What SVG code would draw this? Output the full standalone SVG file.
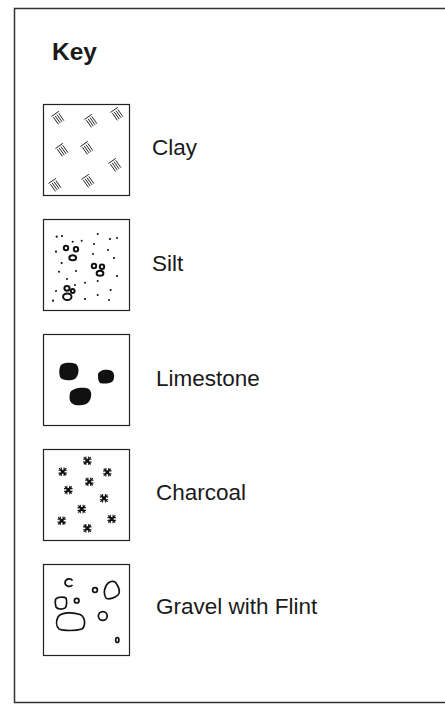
<svg xmlns="http://www.w3.org/2000/svg" width="445" height="708" viewBox="0 0 445 708">
<style>
.frame{fill:none;stroke:#333;stroke-width:1.5}
.box{fill:#fff;stroke:#222;stroke-width:1.2}
.lbl{font-family:"Liberation Sans",Arial,sans-serif;font-size:22.5px;fill:#1a1a1a}
.key{font-family:"Liberation Sans",Arial,sans-serif;font-size:24.5px;font-weight:bold;fill:#1a1a1a}
.ln{stroke:#222;stroke-width:0.9;fill:none}
.ring{fill:none;stroke:#111;stroke-width:2}
.dot{fill:#111}
.peb{fill:none;stroke:#111;stroke-width:1.7}
</style>
<defs>
<g id="clayg" class="ln">
<path d="M-4.5,-5 L4.5,-5 M-3.3,-3.3 L-3.3,5.5 M-1.1,-3.3 L-1.1,5.5 M1.1,-3.3 L1.1,5.5 M3.3,-3.3 L3.3,5.5"/>
</g>
<g id="charg" stroke="#111" stroke-width="1.1" fill="none">
<path d="M-4.2,-1.4 L4.2,-1.4 M-4.2,1.4 L4.2,1.4 M-1.4,-4.2 L-1.4,4.2 M1.4,-4.2 L1.4,4.2 M-3.6,-3.6 L3.6,3.6 M3.6,-3.6 L-3.6,3.6"/>
</g>
</defs>
<rect class="frame" x="14.5" y="8.5" width="434" height="694"/>
<text class="key" x="52" y="60">Key</text>

<g id="clay">
<rect class="box" x="43.5" y="104.5" width="86" height="91"/>
<use href="#clayg" transform="translate(58,118) rotate(-35)"/>
<use href="#clayg" transform="translate(91,121) rotate(-35)"/>
<use href="#clayg" transform="translate(117,114) rotate(-35)"/>
<use href="#clayg" transform="translate(62,150) rotate(-35)"/>
<use href="#clayg" transform="translate(87,148) rotate(-35)"/>
<use href="#clayg" transform="translate(115,165) rotate(-35)"/>
<use href="#clayg" transform="translate(55,185) rotate(-35)"/>
<use href="#clayg" transform="translate(88,181) rotate(-35)"/>
<text class="lbl" x="152" y="155">Clay</text>
</g>

<g id="silt">
<rect class="box" x="43.5" y="219.5" width="86" height="91"/>
<g class="dot">
<circle cx="56.7" cy="236.7" r="1.1"/><circle cx="62" cy="236" r="1.1"/><circle cx="97.7" cy="234" r="1"/>
<circle cx="110" cy="239" r="1.1"/><circle cx="117" cy="238" r="1"/><circle cx="72.7" cy="241.7" r="1"/>
<circle cx="81.7" cy="240.7" r="1"/><circle cx="94" cy="244" r="1"/><circle cx="56" cy="251.7" r="1.1"/>
<circle cx="108" cy="250" r="1"/><circle cx="93" cy="254" r="1"/><circle cx="61.7" cy="263" r="1.1"/>
<circle cx="114" cy="258" r="1.1"/><circle cx="76" cy="271" r="1"/><circle cx="59" cy="271.7" r="1"/>
<circle cx="117" cy="276" r="1.1"/><circle cx="67" cy="279" r="1"/><circle cx="97.7" cy="281" r="1"/>
<circle cx="85" cy="282.7" r="1"/><circle cx="75" cy="285" r="1"/><circle cx="110.7" cy="290" r="1.1"/>
<circle cx="56" cy="291" r="1"/><circle cx="85" cy="299" r="1.1"/><circle cx="97.7" cy="295" r="1"/>
<circle cx="109" cy="300" r="1"/><circle cx="53" cy="300.7" r="1.1"/>
</g>
<circle cx="66" cy="248" r="2.2" class="ring"/>
<circle cx="76" cy="249.3" r="2.2" class="ring"/>
<ellipse cx="72.7" cy="257.7" rx="3.4" ry="2.5" class="ring"/>
<circle cx="94" cy="266" r="2.2" class="ring"/>
<circle cx="102" cy="266.7" r="2.2" class="ring"/>
<ellipse cx="100" cy="273.3" rx="3.4" ry="2.5" class="ring"/>
<ellipse cx="67" cy="288.3" rx="2.6" ry="2.4" class="ring"/>
<circle cx="72.7" cy="291" r="1.9" class="ring"/>
<ellipse cx="67.3" cy="296.7" rx="4.2" ry="3.3" class="ring"/>
<text class="lbl" x="152" y="271">Silt</text>
</g>

<g id="limestone">
<rect class="box" x="43.5" y="334.5" width="86" height="91"/>
<g fill="#111">
<path d="M60,367 C61,362 71,362 76,364 C80,367 79,376 75,379 C71,381 62,381 60,377 C59,373 59,370 60,367Z"/>
<path d="M98,375 C98,371 104,369 109,370 C115,371 115,377 113,381 C110,384 103,384 100,383 C98,381 98,378 98,375Z"/>
<path d="M70,393 C71,389 79,387 86,388 C92,389 92,395 90,400 C88,405 80,406 75,405 C69,403 69,398 70,393Z"/>
</g>
<text class="lbl" x="156" y="386">Limestone</text>
</g>

<g id="charcoal">
<rect class="box" x="43.5" y="449.5" width="86" height="91"/>
<use href="#charg" x="87.3" y="460.7"/>
<use href="#charg" x="62.7" y="471.7"/>
<use href="#charg" x="107.3" y="472.3"/>
<use href="#charg" x="89.3" y="481.7"/>
<use href="#charg" x="68.3" y="490"/>
<use href="#charg" x="104" y="498.3"/>
<use href="#charg" x="81.7" y="509"/>
<use href="#charg" x="61.7" y="520.7"/>
<use href="#charg" x="111.7" y="519"/>
<use href="#charg" x="87.3" y="528.3"/>
<text class="lbl" x="156" y="500">Charcoal</text>
</g>

<g id="gravel">
<rect class="box" x="43.5" y="564.5" width="86" height="91"/>
<g class="peb">
<path d="M72.5,580.5 C71,578 65.5,578 65,582.5 C65,586.5 70,587.5 72.5,585"/>
<circle cx="95" cy="590" r="2.4"/>
<path d="M106,586 C108,581 114,580 116,583 C118,586 121,592 118,595 C115,598 108,600 106,598 C104,595 104,590 106,586Z"/>
<path d="M55.5,599.5 C56.5,597 63.5,596.5 66,598 C67,601 67,606 65,608 C62,609.5 57.5,609.5 56,607 C55,604.5 55,602 55.5,599.5Z"/>
<circle cx="76.7" cy="600.7" r="2.3"/>
<path d="M58,617 C61,612 73,612 80,614.5 C86,617.5 85.5,626 82,629 C76,631 64,631 59,629 C56,626 56,621 58,617Z"/>
<circle cx="102.8" cy="616" r="4.4"/>
<ellipse cx="117.3" cy="640" rx="1.6" ry="2.5"/>
</g>
<text class="lbl" x="156" y="614">Gravel with Flint</text>
</g>
</svg>
